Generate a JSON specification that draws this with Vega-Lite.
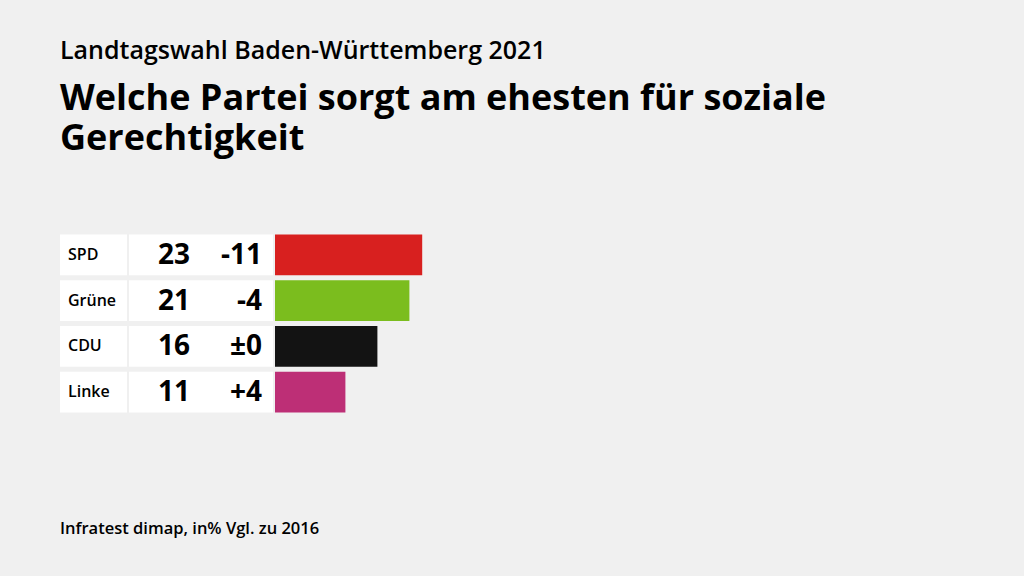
{
  "$schema": "https://vega.github.io/schema/vega-lite/v6.json",
  "background": "#f0f0f0",
  "padding": {"left": 60, "top": 39, "right": 60, "bottom": 44},
  "config": {"view": {"stroke": null}, "font": "Open Sans", "axis": {"domain": false}},
  "title": {
    "text": "Landtagswahl Baden-Württemberg 2021",
    "subtitle": ["Welche Partei sorgt am ehesten für soziale", "Gerechtigkeit"],
    "anchor": "start",
    "font": "Open Sans",
    "fontSize": 25,
    "fontWeight": 600,
    "color": "#000000",
    "subtitleFont": "Open Sans",
    "subtitleFontSize": 36,
    "subtitleFontWeight": "bold",
    "subtitleColor": "#000000",
    "subtitleLineHeight": 40,
    "subtitlePadding": 18,
    "offset": 75
  },
  "datasets": {
    "parties": [
      {"party": "SPD", "value": 23, "change": "-11"},
      {"party": "Grüne", "value": 21, "change": "-4"},
      {"party": "CDU", "value": 16, "change": "±0"},
      {"party": "Linke", "value": 11, "change": "+4"}
    ],
    "footer": [{"text": "Infratest dimap, in% Vgl. zu 2016"}]
  },
  "spacing": 106,
  "vconcat": [
    {
      "spacing": 2,
      "hconcat": [
        {
          "width": 67,
          "height": 183,
          "data": {"name": "parties"},
          "encoding": {
            "y": {"field": "party", "type": "nominal", "sort": null, "axis": null,
                  "scale": {"paddingInner": 0.109, "paddingOuter": 0.0545}}
          },
          "layer": [
            {"mark": {"type": "bar", "color": "#ffffff"}},
            {
              "mark": {"type": "text", "align": "left", "baseline": "middle", "dx": 8, "fontSize": 16, "fontWeight": 600, "color": "#000000"},
              "encoding": {
                "x": {"datum": 0, "type": "quantitative", "scale": {"domain": [0, 1]}, "axis": null},
                "text": {"field": "party"}
              }
            }
          ]
        },
        {
          "width": 144,
          "height": 183,
          "data": {"name": "parties"},
          "encoding": {
            "y": {"field": "party", "type": "nominal", "sort": null, "axis": null,
                  "scale": {"paddingInner": 0.109, "paddingOuter": 0.0545}}
          },
          "layer": [
            {"mark": {"type": "bar", "color": "#ffffff"}},
            {
              "mark": {"type": "text", "align": "right", "baseline": "middle", "dy": 1, "fontSize": 28, "fontWeight": "bold", "color": "#000000"},
              "encoding": {
                "x": {"datum": "Wert", "type": "nominal", "scale": {"type": "point", "domain": ["Wert", "Diff"], "range": [61, 133], "padding": 0}, "axis": null},
                "text": {"field": "value"}
              }
            },
            {
              "mark": {"type": "text", "align": "right", "baseline": "middle", "dy": 1, "fontSize": 28, "fontWeight": "bold", "color": "#000000"},
              "encoding": {
                "x": {"datum": "Diff", "type": "nominal", "axis": null},
                "text": {"field": "change"}
              }
            }
          ]
        },
        {
          "width": 160,
          "height": 183,
          "data": {"name": "parties"},
          "mark": {"type": "bar"},
          "encoding": {
            "y": {"field": "party", "type": "nominal", "sort": null, "axis": null,
                  "scale": {"paddingInner": 0.109, "paddingOuter": 0.0545}},
            "x": {"field": "value", "type": "quantitative", "scale": {"domain": [0, 25]}, "axis": null},
            "color": {"field": "party", "type": "nominal", "legend": null,
                      "scale": {"domain": ["SPD", "Grüne", "CDU", "Linke"], "range": ["#d8201f", "#7bbd1e", "#131313", "#bd2f76"]}}
          }
        }
      ]
    },
    {
      "width": 904,
      "height": 1,
      "data": {"name": "footer"},
      "mark": {"type": "text", "align": "left", "baseline": "alphabetic", "fontSize": 16.5, "fontWeight": 600, "color": "#000000"},
      "encoding": {
        "x": {"datum": 0, "type": "quantitative", "scale": {"domain": [0, 1]}, "axis": null},
        "y": {"datum": 0, "type": "quantitative", "scale": {"domain": [0, 1]}, "axis": null},
        "text": {"field": "text"}
      }
    }
  ]
}
